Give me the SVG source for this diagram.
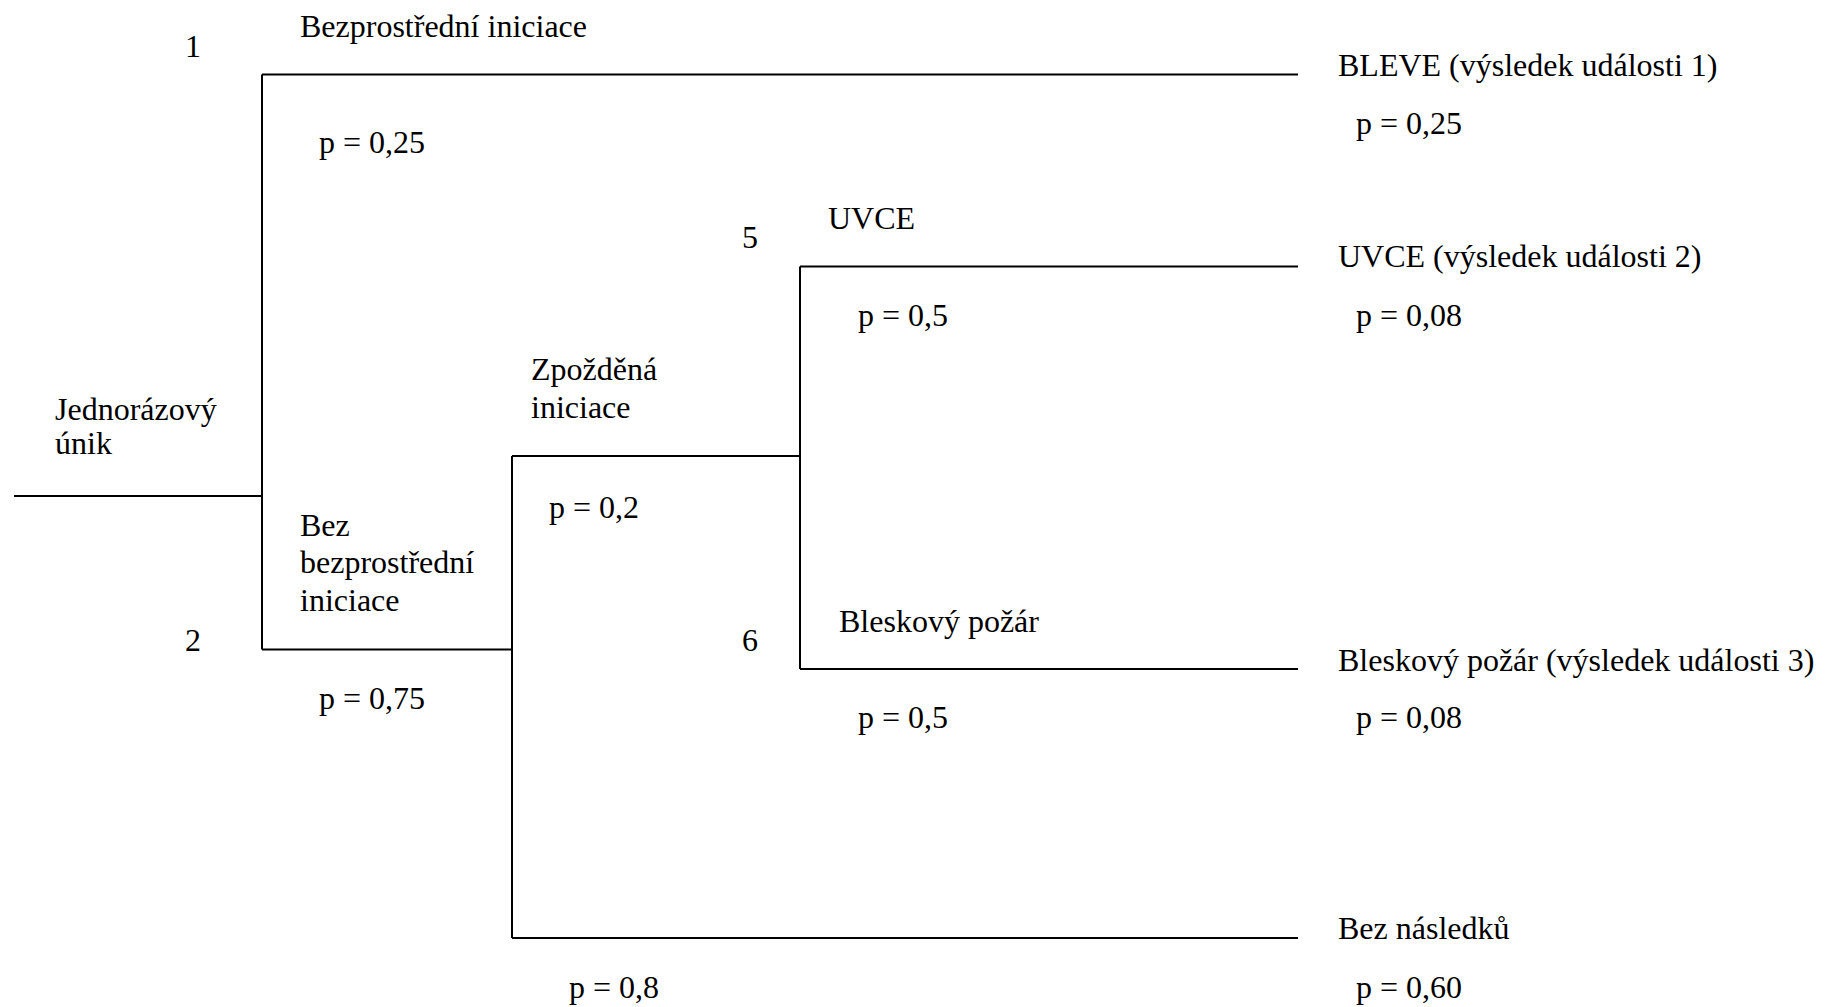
<svg xmlns="http://www.w3.org/2000/svg" width="1825" height="1007" viewBox="0 0 1825 1007">
<style>
text{font-family:"Liberation Serif","Times New Roman",serif;font-size:32px;fill:#000}
.c{text-anchor:middle}
#connectors line{stroke:#000;stroke-width:2;fill:none}
</style>
<rect width="1825" height="1007" fill="#fff"/>
<g id="connectors">
<line x1="14" y1="496" x2="262" y2="496"/>
<line x1="262" y1="74.5" x2="262" y2="649.5"/>
<line x1="262" y1="74.5" x2="1298" y2="74.5"/>
<line x1="262" y1="649.5" x2="512" y2="649.5"/>
<line x1="512" y1="456" x2="512" y2="938"/>
<line x1="512" y1="456" x2="800" y2="456"/>
<line x1="800" y1="266.5" x2="800" y2="669"/>
<line x1="800" y1="266.5" x2="1298" y2="266.5"/>
<line x1="800" y1="669" x2="1298" y2="669"/>
<line x1="512" y1="938" x2="1298" y2="938"/>
</g>
<g id="start"><text x="55" y="420">Jednorázový</text><text x="55" y="454">únik</text></g>
<g id="branch1"><text class="c" x="193" y="57">1</text><text x="300" y="37">Bezprostřední iniciace</text><text x="319" y="153">p = 0,25</text></g>
<g id="branch2"><text class="c" x="193" y="651">2</text><text x="300" y="536">Bez</text><text x="300" y="573">bezprostřední</text><text x="300" y="611">iniciace</text><text x="319" y="709">p = 0,75</text></g>
<g id="delayed"><text x="531" y="380">Zpožděná</text><text x="531" y="418">iniciace</text><text x="549" y="518">p = 0,2</text></g>
<g id="branch5"><text class="c" x="750" y="248">5</text><text x="828" y="229">UVCE</text><text x="858" y="326">p = 0,5</text></g>
<g id="branch6"><text class="c" x="750" y="651">6</text><text x="839" y="632">Bleskový požár</text><text x="858" y="728">p = 0,5</text></g>
<g id="noignition"><text x="569" y="998">p = 0,8</text></g>
<g id="outcome1"><text x="1338" y="76">BLEVE (výsledek události 1)</text><text x="1356" y="134">p = 0,25</text></g>
<g id="outcome2"><text x="1338" y="267">UVCE (výsledek události 2)</text><text x="1356" y="326">p = 0,08</text></g>
<g id="outcome3"><text x="1338" y="671">Bleskový požár (výsledek události 3)</text><text x="1356" y="728">p = 0,08</text></g>
<g id="outcome4"><text x="1338" y="939">Bez následků</text><text x="1356" y="998">p = 0,60</text></g>
</svg>
